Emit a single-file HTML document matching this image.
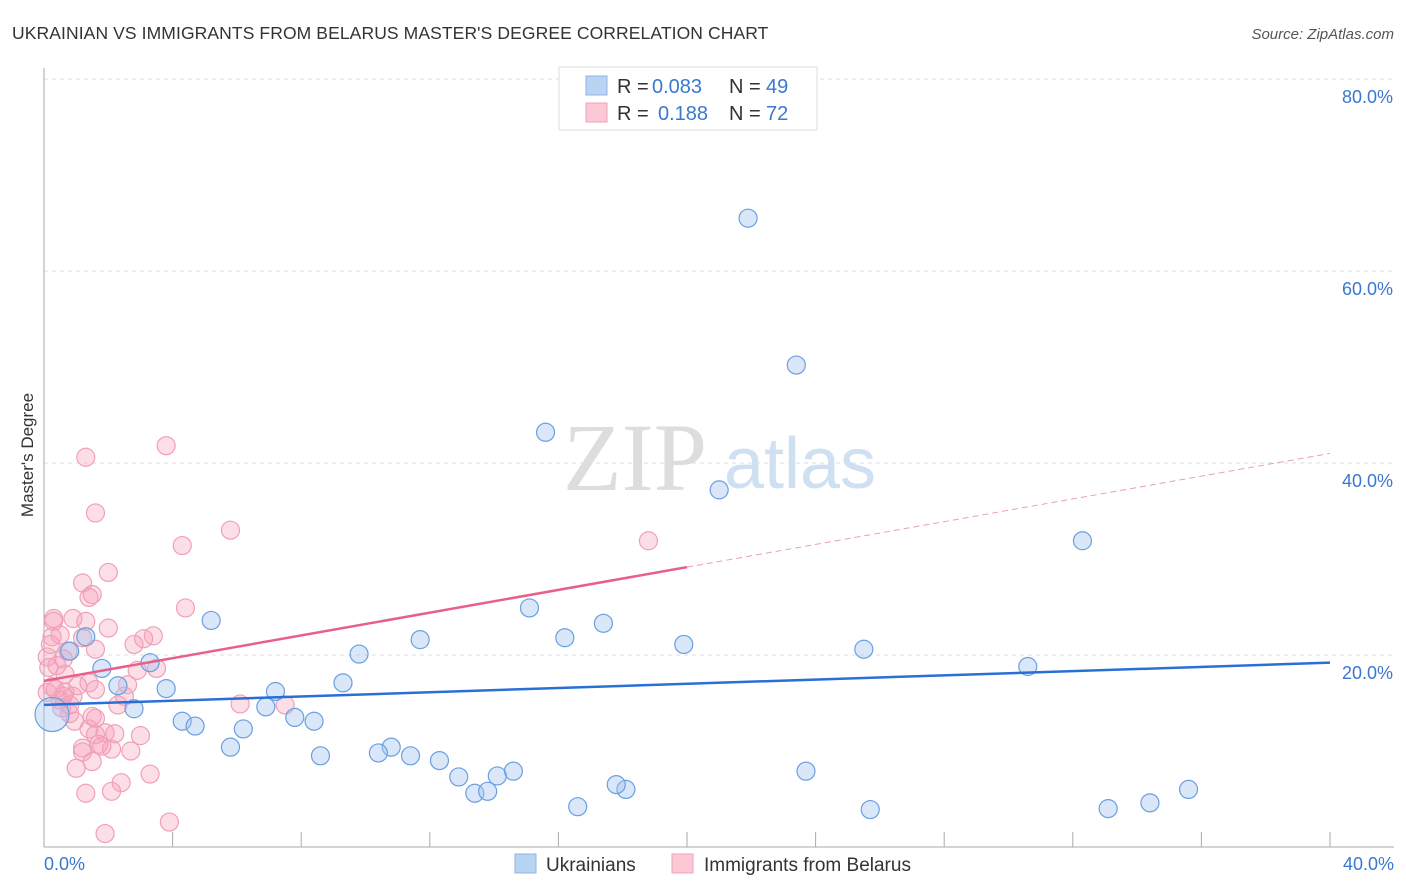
<!DOCTYPE html>
<html><head><meta charset="utf-8"><style>
body{margin:0;background:#fff;font-family:"Liberation Sans",sans-serif;}
svg{display:block}
</style></head><body>
<svg id="chart" width="1406" height="892" xmlns="http://www.w3.org/2000/svg">
<text x="12" y="39" font-size="17.5" fill="#333" letter-spacing="0.1">UKRAINIAN VS IMMIGRANTS FROM BELARUS MASTER'S DEGREE CORRELATION CHART</text>
<text x="1394" y="39" font-size="15" fill="#555" text-anchor="end" font-style="italic">Source: ZipAtlas.com</text>
<text transform="translate(33,455) rotate(-90)" font-size="17" fill="#333" text-anchor="middle">Master's Degree</text>
<g>
<text x="635" y="490" font-size="96" fill="#ddd" font-family="Liberation Serif,serif" text-anchor="middle">ZIP</text>
<text x="800" y="488" font-size="72" fill="#cfe0f3" text-anchor="middle">atlas</text>
</g>
<g id="grid"></g><g id="axes"></g><g id="pts"></g><g id="lines"></g>
<g>
<rect x="559" y="67" width="258" height="63" fill="#fff" stroke="#ddd"/>
<rect x="586" y="76" width="21" height="19" fill="#b9d3f3" stroke="#8fb4e6"/>
<rect x="586" y="103" width="21" height="19" fill="#fbc8d6" stroke="#f0a0b8"/>
<text x="617" y="93" font-size="20" fill="#333">R =</text>
<text x="652" y="93" font-size="20" fill="#3a78d0">0.083</text>
<text x="729" y="93" font-size="20" fill="#333">N =</text>
<text x="766" y="93" font-size="20" fill="#3a78d0">49</text>
<text x="617" y="120" font-size="20" fill="#333">R =</text>
<text x="658" y="120" font-size="20" fill="#3a78d0">0.188</text>
<text x="729" y="120" font-size="20" fill="#333">N =</text>
<text x="766" y="120" font-size="20" fill="#3a78d0">72</text>
</g>
<g>
<rect x="515" y="854" width="21" height="19" fill="#b9d3f3" stroke="#8fb4e6"/>
<text x="546" y="871" font-size="19" fill="#333">Ukrainians</text>
<rect x="672" y="854" width="21" height="19" fill="#fbc8d6" stroke="#f0a0b8"/>
<text x="704" y="871" font-size="19" fill="#333">Immigrants from Belarus</text>
</g>
</svg>
<script>
const blueX=[21.9,23.4,15.6,21.0,32.3,15.1,5.2,17.4,16.2,11.7,19.9,25.5,9.8,1.8,30.6,3.3,1.3,0.8,2.3,3.8,7.2,9.3,2.8,6.9,7.8,4.3,8.4,4.7,6.2,5.8,10.8,10.4,11.4,8.6,12.3,14.6,14.1,12.9,23.7,13.4,13.8,18.1,17.8,35.6,34.4,16.6,33.1,25.7,0.25];
const blueY=[65.5,50.2,43.2,37.2,31.9,24.9,23.6,23.3,21.8,21.6,21.1,20.6,20.1,18.6,18.8,19.2,21.9,20.4,16.8,16.5,16.2,17.1,14.4,14.6,13.5,13.1,13.1,12.6,12.3,10.4,10.4,9.8,9.5,9.5,9.0,7.9,7.4,7.3,7.9,5.6,5.8,6.0,6.5,6.0,4.6,4.2,4.0,3.9,13.8];
const pinkX=[3.8,1.3,1.6,4.3,5.8,18.8,2.0,1.2,1.5,1.4,4.4,0.3,0.3,0.9,1.3,2.0,0.5,1.2,3.4,3.1,2.8,0.25,0.2,0.75,1.6,0.1,0.6,0.4,0.15,3.5,2.9,0.65,1.4,2.6,0.35,0.65,0.9,0.6,2.5,6.1,7.5,2.3,0.8,0.8,1.5,1.6,0.95,1.9,1.6,3.0,2.2,1.7,1.8,1.2,1.2,1.5,1.0,3.3,2.4,2.1,1.3,1.9,3.9,0.5,0.25,1.05,0.1,1.6,0.55,1.4,2.1,2.7];
const pinkY=[41.8,40.6,34.8,31.4,33.0,31.9,28.6,27.5,26.3,26.0,24.9,23.8,23.5,23.8,23.5,22.8,22.1,21.8,22.0,21.7,21.1,21.9,21.1,20.4,20.6,19.8,19.6,18.9,18.7,18.6,18.4,18.0,17.1,16.9,16.4,16.1,15.7,15.7,15.7,14.9,14.8,14.8,14.8,13.9,13.6,13.4,13.1,11.9,11.7,11.6,11.8,10.7,10.5,10.3,9.9,8.9,8.2,7.6,6.7,5.8,5.6,1.4,2.6,15.3,16.7,16.8,16.1,16.4,14.5,12.3,10.2,10.0];
const blueFit=[14.8,19.2];
const pinkFit=[17.3,41.0];
const xTicks=[0,4,8,12,16,20,24,28,32,36,40];
const yTicks=[20,40,60,80];
const NS="http://www.w3.org/2000/svg";
const X=v=>44+v*(1330-44)/40, Y=v=>847-v*9.6;
function mk(tag,parent,attrs){const e=document.createElementNS(NS,tag);for(const k in attrs)e.setAttribute(k,attrs[k]);document.getElementById(parent).appendChild(e);return e;}
yTicks.forEach(t=>{
 const l=mk('line','grid',{x1:44,x2:1394,y1:Y(t),y2:Y(t),stroke:'#ddd','stroke-dasharray':'4,4'});
 
 
 const tx=mk('text','axes',{x:1393,y:Y(t)+24,'font-size':18,fill:'#3a78d0','text-anchor':'end'});tx.textContent=t.toFixed(1)+'%';
 
 
});
const ax=mk('line','axes',{x1:44,x2:44,y1:68,y2:847,stroke:'#aaa'});


const bx=mk('line','axes',{x1:44,x2:1394,y1:847,y2:847,stroke:'#aaa'});


xTicks.forEach(t=>{const l=mk('line','axes',{x1:X(t),x2:X(t),y1:832,y2:847,stroke:'#aaa'});
 
 });
[[0,'start',44],[40,'end',1394]].forEach(([v,a,px])=>{const tx=mk('text','axes',{x:px,y:870,'font-size':18,fill:'#3a78d0','text-anchor':a});tx.textContent=v.toFixed(1)+'%';
 
 });
pinkX.forEach((x,i)=>{const c=mk('circle','pts',{cx:X(x),cy:Y(pinkY[i]),r:9,fill:'rgba(246,160,186,0.35)',stroke:'#f0a0b8','stroke-width':1.2});
 
 });
blueX.forEach((x,i)=>{const c=mk('circle','pts',{cx:X(x),cy:Y(blueY[i]),r:i===48?17:9,fill:'rgba(160,196,240,0.4)',stroke:'#6a9fe0','stroke-width':1.2});
 
 });
const bl=mk('line','lines',{x1:X(0),y1:Y(blueFit[0]),x2:X(40),y2:Y(blueFit[1]),stroke:'#2a6fd6','stroke-width':2.5});


const pm=(pinkFit[0]+pinkFit[1])/2;
const pl=mk('line','lines',{x1:X(0),y1:Y(pinkFit[0]),x2:X(20),y2:Y(pm),stroke:'#e8608a','stroke-width':2.5});


const pd=mk('line','lines',{x1:X(20),y1:Y(pm),x2:X(40),y2:Y(pinkFit[1]),stroke:'#e8a0b4','stroke-width':1,'stroke-dasharray':'6,4'});


</script>
</body></html>
